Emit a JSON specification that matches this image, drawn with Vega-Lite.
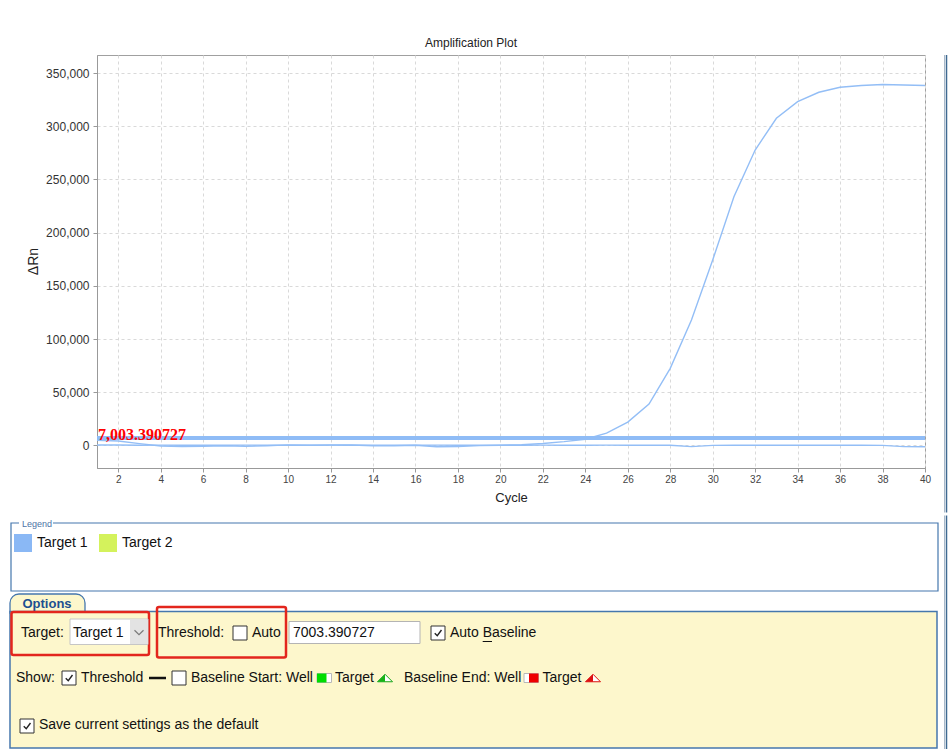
{
"$schema": "https://vega.github.io/schema/vega-lite/v6.json",
"background": "white",
"padding": {"left": 8, "top": 36, "right": 0, "bottom": 0},
"config": {"font": "Liberation Sans", "view": {"stroke": null}},
"columns": 1,
"spacing": 0,
"resolve": {"scale": {"color": "independent"}, "legend": {"color": "independent"}},
"concat": [
{
"width": 828, "height": 413,
"view": {"stroke": "#a0a0a0"},
"title": {"text": "Amplification Plot", "fontSize": 12, "fontWeight": "normal", "font": "Liberation Sans", "color": "#222", "anchor": "middle", "frame": "group", "offset": -8, "dx": -40, "baseline": "bottom"},
"layer": [
{
"data": {"values": [
{"cycle":1,"well":"A1","target":"Target 1","rn":5000},
{"cycle":2,"well":"A1","target":"Target 1","rn":4200},
{"cycle":3,"well":"A1","target":"Target 1","rn":1800},
{"cycle":4,"well":"A1","target":"Target 1","rn":-500},
{"cycle":5,"well":"A1","target":"Target 1","rn":-900},
{"cycle":6,"well":"A1","target":"Target 1","rn":-700},
{"cycle":7,"well":"A1","target":"Target 1","rn":-300},
{"cycle":8,"well":"A1","target":"Target 1","rn":-800},
{"cycle":9,"well":"A1","target":"Target 1","rn":-200},
{"cycle":10,"well":"A1","target":"Target 1","rn":600},
{"cycle":11,"well":"A1","target":"Target 1","rn":200},
{"cycle":12,"well":"A1","target":"Target 1","rn":500},
{"cycle":13,"well":"A1","target":"Target 1","rn":400},
{"cycle":14,"well":"A1","target":"Target 1","rn":-300},
{"cycle":15,"well":"A1","target":"Target 1","rn":-200},
{"cycle":16,"well":"A1","target":"Target 1","rn":200},
{"cycle":17,"well":"A1","target":"Target 1","rn":-1200},
{"cycle":18,"well":"A1","target":"Target 1","rn":-900},
{"cycle":19,"well":"A1","target":"Target 1","rn":-100},
{"cycle":20,"well":"A1","target":"Target 1","rn":300},
{"cycle":21,"well":"A1","target":"Target 1","rn":700},
{"cycle":22,"well":"A1","target":"Target 1","rn":1900},
{"cycle":23,"well":"A1","target":"Target 1","rn":3600},
{"cycle":24,"well":"A1","target":"Target 1","rn":5900},
{"cycle":25,"well":"A1","target":"Target 1","rn":11600},
{"cycle":26,"well":"A1","target":"Target 1","rn":22000},
{"cycle":27,"well":"A1","target":"Target 1","rn":39000},
{"cycle":28,"well":"A1","target":"Target 1","rn":72500},
{"cycle":29,"well":"A1","target":"Target 1","rn":118000},
{"cycle":30,"well":"A1","target":"Target 1","rn":174300},
{"cycle":31,"well":"A1","target":"Target 1","rn":233800},
{"cycle":32,"well":"A1","target":"Target 1","rn":277700},
{"cycle":33,"well":"A1","target":"Target 1","rn":307500},
{"cycle":34,"well":"A1","target":"Target 1","rn":323100},
{"cycle":35,"well":"A1","target":"Target 1","rn":332000},
{"cycle":36,"well":"A1","target":"Target 1","rn":336700},
{"cycle":37,"well":"A1","target":"Target 1","rn":338300},
{"cycle":38,"well":"A1","target":"Target 1","rn":339300},
{"cycle":39,"well":"A1","target":"Target 1","rn":338800},
{"cycle":40,"well":"A1","target":"Target 1","rn":338300},
{"cycle":1,"well":"A2","target":"Target 1","rn":400},
{"cycle":2,"well":"A2","target":"Target 1","rn":450},
{"cycle":3,"well":"A2","target":"Target 1","rn":300},
{"cycle":4,"well":"A2","target":"Target 1","rn":350},
{"cycle":5,"well":"A2","target":"Target 1","rn":300},
{"cycle":6,"well":"A2","target":"Target 1","rn":250},
{"cycle":7,"well":"A2","target":"Target 1","rn":300},
{"cycle":8,"well":"A2","target":"Target 1","rn":350},
{"cycle":9,"well":"A2","target":"Target 1","rn":300},
{"cycle":10,"well":"A2","target":"Target 1","rn":250},
{"cycle":11,"well":"A2","target":"Target 1","rn":300},
{"cycle":12,"well":"A2","target":"Target 1","rn":350},
{"cycle":13,"well":"A2","target":"Target 1","rn":300},
{"cycle":14,"well":"A2","target":"Target 1","rn":300},
{"cycle":15,"well":"A2","target":"Target 1","rn":250},
{"cycle":16,"well":"A2","target":"Target 1","rn":300},
{"cycle":17,"well":"A2","target":"Target 1","rn":350},
{"cycle":18,"well":"A2","target":"Target 1","rn":300},
{"cycle":19,"well":"A2","target":"Target 1","rn":250},
{"cycle":20,"well":"A2","target":"Target 1","rn":300},
{"cycle":21,"well":"A2","target":"Target 1","rn":300},
{"cycle":22,"well":"A2","target":"Target 1","rn":350},
{"cycle":23,"well":"A2","target":"Target 1","rn":300},
{"cycle":24,"well":"A2","target":"Target 1","rn":300},
{"cycle":25,"well":"A2","target":"Target 1","rn":350},
{"cycle":26,"well":"A2","target":"Target 1","rn":300},
{"cycle":27,"well":"A2","target":"Target 1","rn":300},
{"cycle":28,"well":"A2","target":"Target 1","rn":200},
{"cycle":29,"well":"A2","target":"Target 1","rn":-1100},
{"cycle":30,"well":"A2","target":"Target 1","rn":100},
{"cycle":31,"well":"A2","target":"Target 1","rn":300},
{"cycle":32,"well":"A2","target":"Target 1","rn":300},
{"cycle":33,"well":"A2","target":"Target 1","rn":300},
{"cycle":34,"well":"A2","target":"Target 1","rn":300},
{"cycle":35,"well":"A2","target":"Target 1","rn":300},
{"cycle":36,"well":"A2","target":"Target 1","rn":300},
{"cycle":37,"well":"A2","target":"Target 1","rn":250},
{"cycle":38,"well":"A2","target":"Target 1","rn":100},
{"cycle":39,"well":"A2","target":"Target 1","rn":-1100},
{"cycle":40,"well":"A2","target":"Target 1","rn":-1200}
]},
"mark": {"type": "line", "strokeWidth": 1.4},
"encoding": {
"x": {"field": "cycle", "type": "quantitative", "scale": {"domain": [1, 40], "nice": false, "zero": false},
"axis": {"title": "Cycle", "values": [2,4,6,8,10,12,14,16,18,20,22,24,26,28,30,32,34,36,38,40], "format": "d", "labelFontSize": 10, "labelColor": "#444", "labelPadding": 2, "labelFlush": false, "labelOverlap": false, "tickSize": 4, "tickColor": "#999", "domainColor": "#999", "grid": true, "gridColor": "#d9d9d9", "gridDash": [3,3], "titleFontSize": 13, "titleFontWeight": "normal", "titleColor": "#222", "titlePadding": 7}},
"y": {"field": "rn", "type": "quantitative", "scale": {"domain": [-21150, 367000], "nice": false, "zero": false},
"axis": {"title": "ΔRn", "values": [0,25000,50000,75000,100000,125000,150000,175000,200000,225000,250000,275000,300000,325000,350000], "format": ",d", "labelFontSize": 12, "labelColor": "#333", "labelPadding": 4, "labelOverlap": false, "tickSize": 4, "tickColor": "#999", "domainColor": "#999", "grid": true, "gridColor": "#d9d9d9", "gridDash": [3,3], "titleFontSize": 14, "titleFontWeight": "normal", "titleColor": "#222", "minExtent": 88, "titleX": -64, "titleY": 206, "titleAlign": "center", "titleBaseline": "middle", "titleAngle": 270}},
"color": {"field": "target", "type": "nominal", "scale": {"domain": ["Target 1", "Target 2"], "range": ["#93bef6", "#d3f060"]}, "legend": null},
"detail": {"field": "well"}
}
},
{
"data": {"values": [{"threshold": 7003.390727}]},
"mark": {"type": "rule", "strokeWidth": 4, "color": "#8fbcf6"},
"encoding": {"y": {"field": "threshold", "type": "quantitative"}}
},
{
"data": {"values": [{"threshold": 7003.390727}]},
"mark": {"type": "text", "align": "left", "baseline": "alphabetic", "dx": 1, "dy": 2, "font": "Liberation Serif", "fontSize": 16, "fontWeight": "bold", "color": "#ff0000"},
"encoding": {"x": {"datum": 1}, "y": {"field": "threshold", "type": "quantitative"}, "text": {"field": "threshold", "type": "quantitative", "format": ",.6f"}}
},
{
"data": {"values": [{}]},
"mark": {"type": "rule", "color": "#a9b8c8", "strokeWidth": 1},
"encoding": {"x": {"datum": 40.919}, "y": {"datum": 367000}, "y2": {"datum": -62973}}
},
{
"data": {"values": [{}]},
"mark": {"type": "rule", "color": "#3f6a92", "strokeWidth": 1.5},
"encoding": {"x": {"datum": 41.013}, "y": {"datum": 367000}, "y2": {"datum": -62973}}
}
]
},
{
"width": 850, "height": 235,
"view": {"stroke": null},
"data": {"values": [{}]},
"layer": [
{"mark": {"type": "rule", "color": "#a9b8c8", "strokeWidth": 1},
"encoding": {"x": {"datum": 943.5, "type": "quantitative", "scale": {"domain": [96, 946], "nice": false, "zero": false}, "axis": null}, "y": {"datum": 514.5, "type": "quantitative", "scale": {"domain": [514, 749], "nice": false, "zero": false, "reverse": true}, "axis": null}, "y2": {"datum": 749}}},
{"mark": {"type": "rule", "color": "#3f6a92", "strokeWidth": 1.5},
"encoding": {"x": {"datum": 945.5, "axis": null}, "y": {"datum": 514.5, "axis": null}, "y2": {"datum": 749}}},
{"mark": {"type": "rect", "filled": false, "stroke": "#4577ad", "strokeWidth": 1.2},
"encoding": {"x": {"datum": 10, "axis": null}, "x2": {"datum": 937}, "y": {"datum": 522, "axis": null}, "y2": {"datum": 590}}},
{"mark": {"type": "rect", "color": "white"},
"encoding": {"x": {"datum": 18, "axis": null}, "x2": {"datum": 52}, "y": {"datum": 517, "axis": null}, "y2": {"datum": 528}}},
{"mark": {"type": "text", "text": "Legend", "align": "left", "baseline": "middle", "fontSize": 9, "color": "#4d73a6"},
"encoding": {"x": {"datum": 21, "axis": null}, "y": {"datum": 522.5, "axis": null}}},
{"data": {"values": [{"target": "Target 1"}, {"target": "Target 2"}]},
"mark": {"type": "square", "opacity": 1},
"encoding": {"color": {"field": "target", "type": "nominal", "scale": {"domain": ["Target 1", "Target 2"], "range": ["#8ab8f5", "#d4f25c"]},
"legend": {"orient": "none", "legendX": -83, "legendY": 19, "direction": "horizontal", "title": null, "symbolType": "square", "symbolSize": 324, "symbolStrokeWidth": 0, "symbolOpacity": 1, "labelFontSize": 14, "labelFont": "Liberation Sans", "labelColor": "#111", "labelOffset": 5, "columnPadding": 11, "padding": 0, "symbolOffset": 0, "labelLimit": 200}}}},
{"mark": {"type": "rect", "fill": "#fdf7cc", "stroke": "#4577ad", "strokeWidth": 1.3, "cornerRadiusTopLeft": 9, "cornerRadiusTopRight": 9},
"encoding": {"x": {"datum": 9, "axis": null}, "x2": {"datum": 84}, "y": {"datum": 593, "axis": null}, "y2": {"datum": 612}}},
{"mark": {"type": "rect", "fill": "#fdf7cc", "stroke": "#4577ad", "strokeWidth": 1.5},
"encoding": {"x": {"datum": 9, "axis": null}, "x2": {"datum": 936}, "y": {"datum": 610.5, "axis": null}, "y2": {"datum": 747}}},
{"mark": {"type": "text", "text": "Options", "align": "center", "baseline": "middle", "fontSize": 13, "fontWeight": "bold", "color": "#1d4f91"},
"encoding": {"x": {"datum": 46, "axis": null}, "y": {"datum": 602.5, "axis": null}}},
{"mark": {"type": "rect", "filled": false, "stroke": "#e3261d", "strokeWidth": 2.5, "cornerRadius": 2},
"encoding": {"x": {"datum": 10.5, "axis": null}, "x2": {"datum": 148}, "y": {"datum": 611, "axis": null}, "y2": {"datum": 654}}},
{"mark": {"type": "rect", "filled": false, "stroke": "#e3261d", "strokeWidth": 2.5, "cornerRadius": 2},
"encoding": {"x": {"datum": 156, "axis": null}, "x2": {"datum": 285}, "y": {"datum": 606, "axis": null}, "y2": {"datum": 656.5}}},
{"mark": {"type": "text", "text": "Target:", "align": "left", "baseline": "middle", "fontSize": 14, "color": "#111"},
"encoding": {"x": {"datum": 20, "axis": null}, "y": {"datum": 632, "axis": null}}},
{"mark": {"type": "rect", "fill": "white", "stroke": "#c6c6c6", "strokeWidth": 1},
"encoding": {"x": {"datum": 69, "axis": null}, "x2": {"datum": 147}, "y": {"datum": 618, "axis": null}, "y2": {"datum": 643.5}}},
{"mark": {"type": "rect", "fill": "#e3e3e3"},
"encoding": {"x": {"datum": 129, "axis": null}, "x2": {"datum": 146.5}, "y": {"datum": 618.5, "axis": null}, "y2": {"datum": 643}}},
{"mark": {"type": "point", "shape": "M-1,-0.5L0,0.5L1,-0.5", "filled": false, "stroke": "#7a7a7a", "strokeWidth": 1.2, "size": 81, "opacity": 1},
"encoding": {"x": {"datum": 138, "axis": null}, "y": {"datum": 631.5, "axis": null}}},
{"mark": {"type": "text", "text": "Target 1", "align": "left", "baseline": "middle", "fontSize": 14, "color": "#111"},
"encoding": {"x": {"datum": 72, "axis": null}, "y": {"datum": 632, "axis": null}}},
{"mark": {"type": "text", "text": "Threshold:", "align": "left", "baseline": "middle", "fontSize": 14, "color": "#111"},
"encoding": {"x": {"datum": 157, "axis": null}, "y": {"datum": 632, "axis": null}}},
{"mark": {"type": "rect", "fill": "white", "stroke": "#333", "strokeWidth": 1},
"encoding": {"x": {"datum": 232, "axis": null}, "x2": {"datum": 246}, "y": {"datum": 625, "axis": null}, "y2": {"datum": 639}}},
{"mark": {"type": "text", "text": "Auto", "align": "left", "baseline": "middle", "fontSize": 14, "color": "#111"},
"encoding": {"x": {"datum": 251, "axis": null}, "y": {"datum": 632, "axis": null}}},
{"mark": {"type": "rect", "fill": "white", "stroke": "#b4b4b4", "strokeWidth": 1},
"encoding": {"x": {"datum": 288, "axis": null}, "x2": {"datum": 419}, "y": {"datum": 620.5, "axis": null}, "y2": {"datum": 642.5}}},
{"mark": {"type": "text", "text": "7003.390727", "align": "left", "baseline": "middle", "fontSize": 14, "color": "#111"},
"encoding": {"x": {"datum": 292, "axis": null}, "y": {"datum": 632, "axis": null}}},
{"mark": {"type": "rect", "fill": "white", "stroke": "#333", "strokeWidth": 1},
"encoding": {"x": {"datum": 430, "axis": null}, "x2": {"datum": 444}, "y": {"datum": 625, "axis": null}, "y2": {"datum": 639}}},
{"mark": {"type": "point", "shape": "M-0.65,0.05L-0.15,0.55L0.7,-0.6", "filled": false, "stroke": "#222", "strokeWidth": 1.4, "size": 100, "opacity": 1},
"encoding": {"x": {"datum": 437, "axis": null}, "y": {"datum": 632, "axis": null}}},
{"mark": {"type": "text", "text": "Auto Baseline", "align": "left", "baseline": "middle", "fontSize": 14, "color": "#111"},
"encoding": {"x": {"datum": 449, "axis": null}, "y": {"datum": 632, "axis": null}}},
{"mark": {"type": "rule", "color": "#111", "strokeWidth": 1},
"encoding": {"x": {"datum": 481.7, "axis": null}, "x2": {"datum": 491}, "y": {"datum": 640.5, "axis": null}}},
{"mark": {"type": "text", "text": "Show:", "align": "left", "baseline": "middle", "fontSize": 14, "color": "#111"},
"encoding": {"x": {"datum": 15, "axis": null}, "y": {"datum": 677, "axis": null}}},
{"mark": {"type": "rect", "fill": "white", "stroke": "#333", "strokeWidth": 1},
"encoding": {"x": {"datum": 61, "axis": null}, "x2": {"datum": 75}, "y": {"datum": 670, "axis": null}, "y2": {"datum": 684}}},
{"mark": {"type": "point", "shape": "M-0.65,0.05L-0.15,0.55L0.7,-0.6", "filled": false, "stroke": "#222", "strokeWidth": 1.4, "size": 100, "opacity": 1},
"encoding": {"x": {"datum": 68, "axis": null}, "y": {"datum": 677, "axis": null}}},
{"mark": {"type": "text", "text": "Threshold", "align": "left", "baseline": "middle", "fontSize": 14, "color": "#111"},
"encoding": {"x": {"datum": 80, "axis": null}, "y": {"datum": 677, "axis": null}}},
{"mark": {"type": "rule", "color": "#111", "strokeWidth": 2.5},
"encoding": {"x": {"datum": 148, "axis": null}, "x2": {"datum": 165}, "y": {"datum": 677, "axis": null}}},
{"mark": {"type": "rect", "fill": "white", "stroke": "#333", "strokeWidth": 1},
"encoding": {"x": {"datum": 171, "axis": null}, "x2": {"datum": 185}, "y": {"datum": 670, "axis": null}, "y2": {"datum": 684}}},
{"mark": {"type": "text", "text": "Baseline Start: Well", "align": "left", "baseline": "middle", "fontSize": 14, "color": "#111"},
"encoding": {"x": {"datum": 190, "axis": null}, "y": {"datum": 677, "axis": null}}},
{"mark": {"type": "rect", "fill": "white", "stroke": "#b8b8b8", "strokeWidth": 1},
"encoding": {"x": {"datum": 316, "axis": null}, "x2": {"datum": 330.5}, "y": {"datum": 672.5, "axis": null}, "y2": {"datum": 681.5}}},
{"mark": {"type": "rect", "fill": "#00dd00"},
"encoding": {"x": {"datum": 316, "axis": null}, "x2": {"datum": 325.5}, "y": {"datum": 672.5, "axis": null}, "y2": {"datum": 681.5}}},
{"mark": {"type": "text", "text": "Target", "align": "left", "baseline": "middle", "fontSize": 14, "color": "#111"},
"encoding": {"x": {"datum": 334, "axis": null}, "y": {"datum": 677, "axis": null}}},
{"mark": {"type": "point", "shape": "M-1,0.5L0,-0.5L1,0.5Z", "filled": true, "fill": "white", "stroke": "#17a317", "strokeWidth": 1, "size": 225, "opacity": 1},
"encoding": {"x": {"datum": 384, "axis": null}, "y": {"datum": 677, "axis": null}}},
{"mark": {"type": "point", "shape": "M-1,0.5L0,-0.5L0,0.5Z", "filled": true, "fill": "#17b317", "strokeWidth": 0, "size": 225, "opacity": 1},
"encoding": {"x": {"datum": 384, "axis": null}, "y": {"datum": 677, "axis": null}}},
{"mark": {"type": "text", "text": "Baseline End: Well", "align": "left", "baseline": "middle", "fontSize": 14, "color": "#111"},
"encoding": {"x": {"datum": 403, "axis": null}, "y": {"datum": 677, "axis": null}}},
{"mark": {"type": "rect", "fill": "white", "stroke": "#b8b8b8", "strokeWidth": 1},
"encoding": {"x": {"datum": 523, "axis": null}, "x2": {"datum": 537.5}, "y": {"datum": 672.5, "axis": null}, "y2": {"datum": 681.5}}},
{"mark": {"type": "rect", "fill": "#ee0000"},
"encoding": {"x": {"datum": 528, "axis": null}, "x2": {"datum": 537.5}, "y": {"datum": 672.5, "axis": null}, "y2": {"datum": 681.5}}},
{"mark": {"type": "text", "text": "Target", "align": "left", "baseline": "middle", "fontSize": 14, "color": "#111"},
"encoding": {"x": {"datum": 541.5, "axis": null}, "y": {"datum": 677, "axis": null}}},
{"mark": {"type": "point", "shape": "M-1,0.5L0,-0.5L1,0.5Z", "filled": true, "fill": "white", "stroke": "#dd1111", "strokeWidth": 1, "size": 225, "opacity": 1},
"encoding": {"x": {"datum": 592, "axis": null}, "y": {"datum": 677, "axis": null}}},
{"mark": {"type": "point", "shape": "M-1,0.5L0,-0.5L0,0.5Z", "filled": true, "fill": "#dd1111", "strokeWidth": 0, "size": 225, "opacity": 1},
"encoding": {"x": {"datum": 592, "axis": null}, "y": {"datum": 677, "axis": null}}},
{"mark": {"type": "rect", "fill": "white", "stroke": "#333", "strokeWidth": 1},
"encoding": {"x": {"datum": 19, "axis": null}, "x2": {"datum": 33}, "y": {"datum": 718, "axis": null}, "y2": {"datum": 732}}},
{"mark": {"type": "point", "shape": "M-0.65,0.05L-0.15,0.55L0.7,-0.6", "filled": false, "stroke": "#222", "strokeWidth": 1.4, "size": 100, "opacity": 1},
"encoding": {"x": {"datum": 26, "axis": null}, "y": {"datum": 725, "axis": null}}},
{"mark": {"type": "text", "text": "Save current settings as the default", "align": "left", "baseline": "middle", "fontSize": 14, "color": "#111"},
"encoding": {"x": {"datum": 38, "axis": null}, "y": {"datum": 724, "axis": null}}}
]
}
]
}
